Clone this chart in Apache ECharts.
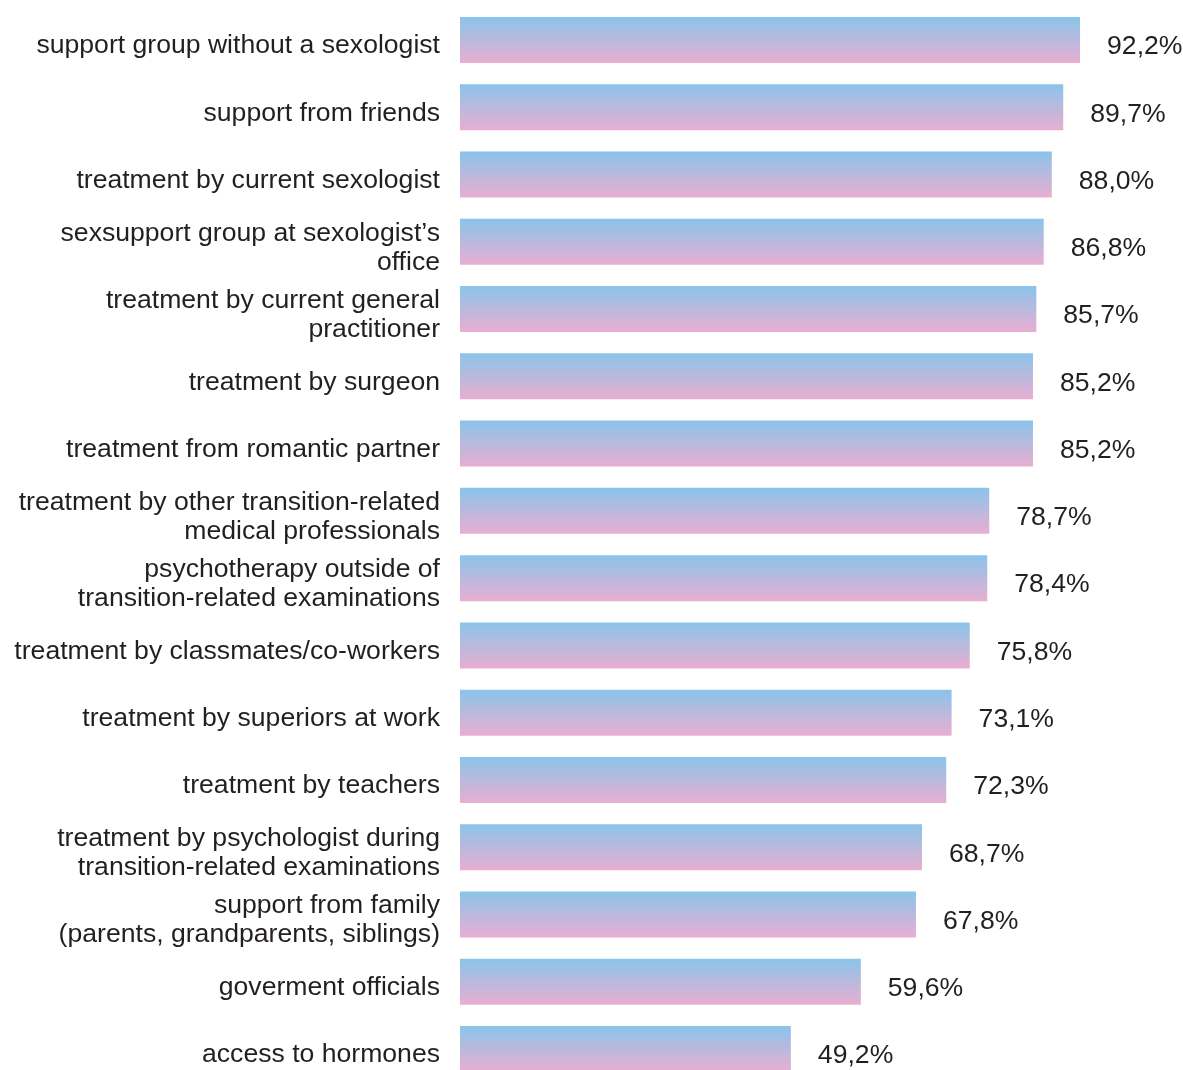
<!DOCTYPE html>
<html>
<head>
<meta charset="utf-8">
<style>
  html, body { margin: 0; padding: 0; background: #ffffff; }
  #chart { width: 1183px; height: 1070px; }
</style>
<script src="https://cdn.jsdelivr.net/npm/echarts@6/dist/echarts.min.js"></script>
</head>
<body>
<div id="chart"></div>
<script>
const categories = [
  "support group without a sexologist",
  "support from friends",
  "treatment by current sexologist",
  "sexsupport group at sexologist’s\noffice",
  "treatment by current general\npractitioner",
  "treatment by surgeon",
  "treatment from romantic partner",
  "treatment by other transition-related\nmedical professionals",
  "psychotherapy outside of\ntransition-related examinations",
  "treatment by classmates/co-workers",
  "treatment by superiors at work",
  "treatment by teachers",
  "treatment by psychologist during\ntransition-related examinations",
  "support from family\n(parents, grandparents, siblings)",
  "goverment officials",
  "access to hormones"
];
const values = [92.2, 89.7, 88.0, 86.8, 85.7, 85.2, 85.2, 78.7, 78.4, 75.8, 73.1, 72.3, 68.7, 67.8, 59.6, 49.2];

const chart = echarts.init(document.getElementById('chart'), null, { renderer: 'canvas' });
const textColor = '#231F20';
const fontFamily = '"Liberation Sans", Arial, Helvetica, sans-serif';

chart.setOption({
  animation: false,
  backgroundColor: '#ffffff',
  grid: [
    { left: 460, right: 50.5, top: 6.4, bottom: -12.6, containLabel: false, outerBoundsMode: 'none' },
    { left: 460, right: 50.5, top: 12.4, bottom: -18.6, containLabel: false, outerBoundsMode: 'none' }
  ],
  xAxis: [
    { type: 'value', min: 0, max: 100, show: false, gridIndex: 0 },
    { type: 'value', min: 0, max: 100, show: false, gridIndex: 1 }
  ],
  yAxis: [
    {
      type: 'category',
      data: categories,
      inverse: true,
      gridIndex: 0,
      axisLine: { show: false },
      axisTick: { show: false },
      splitLine: { show: false },
      axisLabel: { show: false }
    },
    {
      type: 'category',
      data: categories,
      inverse: true,
      gridIndex: 1,
      axisLine: { show: false },
      axisTick: { show: false },
      splitLine: { show: false },
      axisLabel: {
        margin: 20,
        color: textColor,
        fontSize: 26.6,
        lineHeight: 29,
        fontFamily: fontFamily,
        align: 'right'
      }
    }
  ],
  series: [{
    type: 'bar',
    xAxisIndex: 0,
    yAxisIndex: 0,
    data: values,
    barWidth: 46,
    itemStyle: {
      color: {
        type: 'linear', x: 0, y: 0, x2: 0, y2: 1,
        colorStops: [
          { offset: 0, color: '#8AC4EA' },
          { offset: 1, color: '#E9AED1' }
        ]
      }
    },
    label: {
      show: true,
      position: 'right',
      distance: 27,
      offset: [0, 7],
      color: textColor,
      fontSize: 26.6,
      fontFamily: fontFamily,
      formatter: p => p.value.toFixed(1).replace('.', ',') + '%'
    }
  }]
});
</script>
</body>
</html>
